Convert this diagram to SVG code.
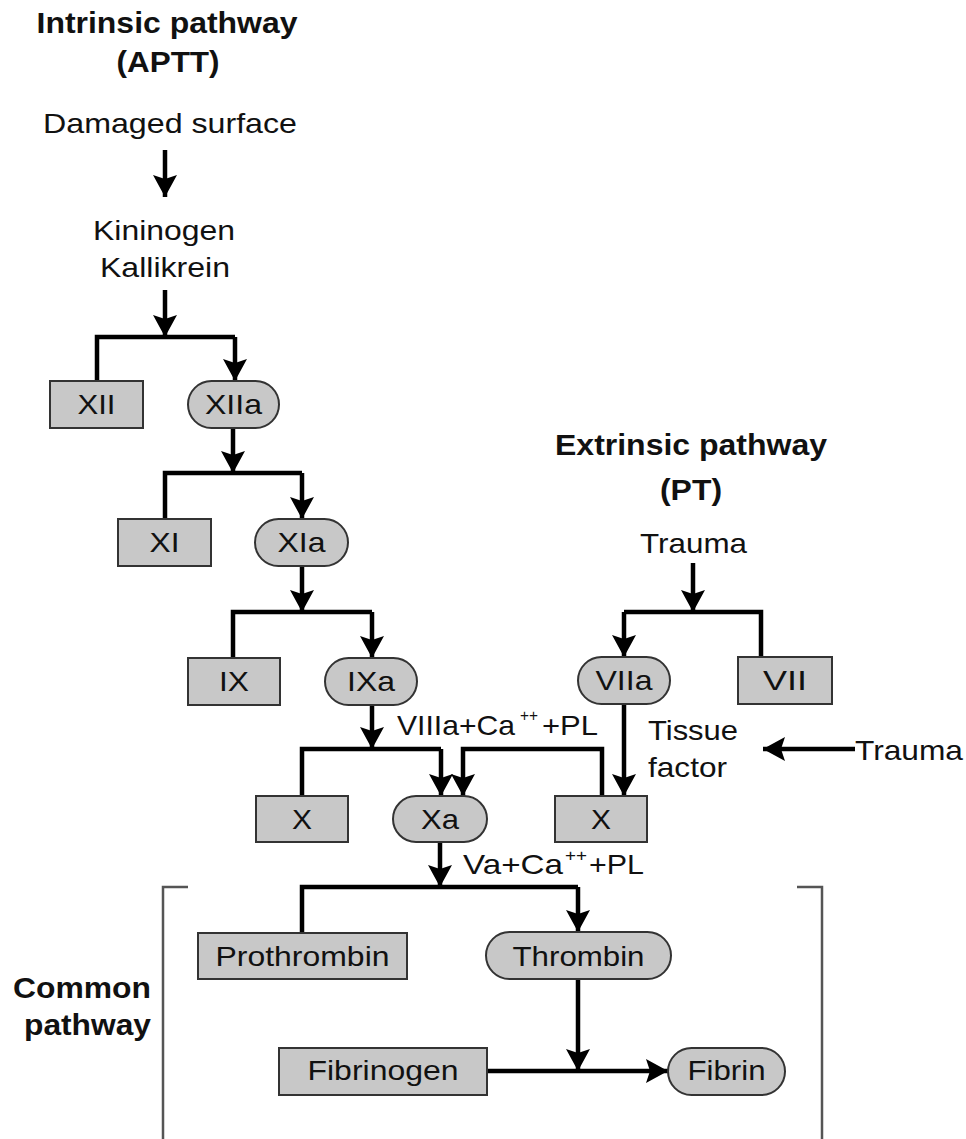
<svg xmlns="http://www.w3.org/2000/svg" width="966" height="1139" viewBox="0 0 966 1139">
<style>
.t{font-family:"Liberation Sans",Arial,Helvetica,sans-serif;font-size:28px;fill:#111}
.m{text-anchor:middle}
.b{font-weight:bold;font-size:29px}
.sup{font-size:17px}
.box{fill:#c8c8c8;stroke:#333;stroke-width:2}
.c{fill:none;stroke:#000;stroke-width:4.5}
.a{marker-end:url(#ah)}
.br{fill:none;stroke:#555;stroke-width:2.5}
</style>
<defs>
<marker id="ah" viewBox="0 0 22 24" refX="22" refY="12" markerWidth="22" markerHeight="24" markerUnits="userSpaceOnUse" orient="auto">
<path d="M0,0 L22,12 L0,24 L4,12 Z" fill="#000"/>
</marker>
</defs>
<rect width="966" height="1139" fill="#fff"/>

<g id="connectors">
<path class="c a" d="M165,150 V197"/>
<path class="c a" d="M165,290 V337"/>
<path class="c" d="M97,381 V337 H235"/>
<path class="c a" d="M235,337 V381"/>
<path class="c a" d="M233,428 V473"/>
<path class="c" d="M165,519 V473 H302"/>
<path class="c a" d="M302,473 V519"/>
<path class="c a" d="M302,566 V612"/>
<path class="c" d="M233,658 V612 H372"/>
<path class="c a" d="M372,612 V658"/>
<path class="c a" d="M372,705 V749"/>
<path class="c" d="M302,796 V749 H441"/>
<path class="c a" d="M441,749 V796"/>
<path class="c a" d="M602,796 V749 H463 V796"/>
<path class="c a" d="M624,704 V796"/>
<path class="c a" d="M693,563 V612"/>
<path class="c" d="M761,657 V612 H624"/>
<path class="c a" d="M624,612 V657"/>
<path class="c a" d="M855,749 H763"/>
<path class="c a" d="M440,842 V887"/>
<path class="c" d="M302,933 V887 H578"/>
<path class="c a" d="M578,887 V932"/>
<path class="c a" d="M578,979 V1071"/>
<path class="c a" d="M487,1071 H668"/>
</g>

<g id="brackets">
<path class="br" d="M188,887 H163 V1139"/>
<path class="br" d="M797,887 H822 V1139"/>
</g>

<g id="title-intrinsic">
<text class="t b m" x="167" y="33" textLength="261" lengthAdjust="spacingAndGlyphs">Intrinsic pathway</text>
<text class="t b m" x="168" y="72" textLength="103" lengthAdjust="spacingAndGlyphs">(APTT)</text>
</g>
<g id="damaged-surface"><text class="t" x="43" y="133" textLength="254" lengthAdjust="spacingAndGlyphs">Damaged surface</text></g>
<g id="kininogen-kallikrein">
<text class="t" x="93" y="240" textLength="142" lengthAdjust="spacingAndGlyphs">Kininogen</text>
<text class="t" x="100" y="277" textLength="130" lengthAdjust="spacingAndGlyphs">Kallikrein</text>
</g>

<g id="XII"><rect class="box" x="50" y="381" width="93" height="47"/><text class="t m" x="96.5" y="414" textLength="38" lengthAdjust="spacingAndGlyphs">XII</text></g>
<g id="XIIa"><rect class="box" x="188" y="381" width="91" height="47" rx="23.5"/><text class="t m" x="233.5" y="414" textLength="57" lengthAdjust="spacingAndGlyphs">XIIa</text></g>
<g id="XI"><rect class="box" x="118" y="519" width="93" height="47"/><text class="t m" x="164.5" y="552" textLength="30" lengthAdjust="spacingAndGlyphs">XI</text></g>
<g id="XIa"><rect class="box" x="255" y="519" width="93" height="47" rx="23.5"/><text class="t m" x="301.5" y="552" textLength="48" lengthAdjust="spacingAndGlyphs">XIa</text></g>
<g id="IX"><rect class="box" x="188" y="658" width="92" height="47"/><text class="t m" x="234" y="691" textLength="30" lengthAdjust="spacingAndGlyphs">IX</text></g>
<g id="IXa"><rect class="box" x="325" y="658" width="92" height="47" rx="23.5"/><text class="t m" x="371" y="691" textLength="48" lengthAdjust="spacingAndGlyphs">IXa</text></g>

<g id="title-extrinsic">
<text class="t b m" x="691" y="455" textLength="272" lengthAdjust="spacingAndGlyphs">Extrinsic pathway</text>
<text class="t b m" x="691" y="500" textLength="62" lengthAdjust="spacingAndGlyphs">(PT)</text>
</g>
<g id="trauma-top"><text class="t" x="640" y="553" textLength="107" lengthAdjust="spacingAndGlyphs">Trauma</text></g>
<g id="VIIa"><rect class="box" x="578" y="657" width="92" height="47" rx="23.5"/><text class="t m" x="624" y="690" textLength="57" lengthAdjust="spacingAndGlyphs">VIIa</text></g>
<g id="VII"><rect class="box" x="738" y="657" width="94" height="47"/><text class="t m" x="785" y="690" textLength="44" lengthAdjust="spacingAndGlyphs">VII</text></g>
<g id="tissue-factor">
<text class="t" x="648" y="740" textLength="90" lengthAdjust="spacingAndGlyphs">Tissue</text>
<text class="t" x="648" y="777" textLength="79" lengthAdjust="spacingAndGlyphs">factor</text>
</g>
<g id="trauma-right"><text class="t" x="855" y="760" textLength="108" lengthAdjust="spacingAndGlyphs">Trauma</text></g>

<g id="label-VIIIa">
<text class="t" x="397" y="735" textLength="118" lengthAdjust="spacingAndGlyphs">VIIIa+Ca</text>
<text class="t sup" x="520" y="721" textLength="18" lengthAdjust="spacingAndGlyphs">++</text>
<text class="t" x="542" y="735" textLength="56" lengthAdjust="spacingAndGlyphs">+PL</text>
</g>

<g id="X-left"><rect class="box" x="256" y="796" width="92" height="46"/><text class="t m" x="302" y="829" textLength="20" lengthAdjust="spacingAndGlyphs">X</text></g>
<g id="Xa"><rect class="box" x="393" y="796" width="94" height="46" rx="23"/><text class="t m" x="440" y="829" textLength="38" lengthAdjust="spacingAndGlyphs">Xa</text></g>
<g id="X-right"><rect class="box" x="555" y="796" width="92" height="46"/><text class="t m" x="601" y="829" textLength="20" lengthAdjust="spacingAndGlyphs">X</text></g>

<g id="label-Va">
<text class="t" x="463" y="874" textLength="100" lengthAdjust="spacingAndGlyphs">Va+Ca</text>
<text class="t sup" x="565" y="861" textLength="22" lengthAdjust="spacingAndGlyphs">++</text>
<text class="t" x="589" y="874" textLength="55" lengthAdjust="spacingAndGlyphs">+PL</text>
</g>

<g id="common-pathway">
<text class="t b" x="151" y="998" text-anchor="end" textLength="138" lengthAdjust="spacingAndGlyphs">Common</text>
<text class="t b" x="151" y="1035" text-anchor="end" textLength="127" lengthAdjust="spacingAndGlyphs">pathway</text>
</g>
<g id="prothrombin"><rect class="box" x="198" y="933" width="209" height="46"/><text class="t m" x="302.5" y="966" textLength="174" lengthAdjust="spacingAndGlyphs">Prothrombin</text></g>
<g id="thrombin"><rect class="box" x="486" y="932" width="185" height="47" rx="23.5"/><text class="t m" x="578.5" y="966" textLength="132" lengthAdjust="spacingAndGlyphs">Thrombin</text></g>
<g id="fibrinogen"><rect class="box" x="279" y="1048" width="208" height="47"/><text class="t m" x="383" y="1080" textLength="151" lengthAdjust="spacingAndGlyphs">Fibrinogen</text></g>
<g id="fibrin"><rect class="box" x="668" y="1048" width="117" height="47" rx="23.5"/><text class="t m" x="726.5" y="1080" textLength="78" lengthAdjust="spacingAndGlyphs">Fibrin</text></g>
</svg>
